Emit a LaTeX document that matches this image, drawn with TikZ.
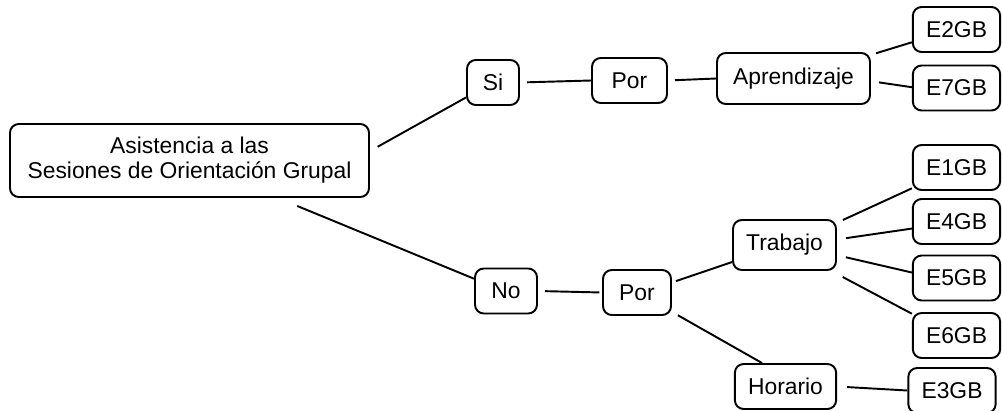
\documentclass[tikz,border=0pt]{standalone}
\usepackage{fontspec}
\setmainfont{Liberation Sans}

\begin{document}
\begin{tikzpicture}[
    box/.style={draw, rounded corners=5pt, line width=1.1pt, inner xsep=7.5pt, minimum height=0.9cm, font=\fontsize{13}{14.2}\selectfont},
    link/.style={line width=1.1pt}
  ]
            \useasboundingbox (0,0) rectangle (20.04,-8.2);

            %Nodes
            \node[box, align=center, minimum width=7.18cm, minimum height=1.46cm] at (3.79,-3.21) (root) {Asistencia a las\\Sesiones de Orientación Grupal};
            \node[box, minimum width=1.04cm] at (9.86,-1.65) (si) {Si};
            \node[box, minimum width=1.5cm] at (12.59,-1.61) (porsi) {Por};
            \node[box, minimum width=3.06cm, minimum height=1.02cm] at (15.87,-1.57) (aprendizaje) {Aprendizaje};
            \node[box] at (19.13,-0.59) (e2) {E2GB};
            \node[box] at (19.13,-1.76) (e7) {E7GB};
            \node[box, minimum width=1.24cm] at (10.12,-5.82) (no) {No};
            \node[box, minimum width=1.36cm] at (12.74,-5.85) (porno) {Por};
            \node[box, minimum height=1cm] at (15.69,-4.9) (trabajo) {Trabajo};
            \node[box] at (15.71,-7.73) (horario) {Horario};
            \node[box] at (19.13,-3.35) (e1) {E1GB};
            \node[box] at (19.13,-4.43) (e4) {E4GB};
            \node[box] at (19.13,-5.56) (e5) {E5GB};
            \node[box] at (19.13,-6.71) (e6) {E6GB};
            \node[box] at (19.04,-7.81) (e3) {E3GB};

            %Lines
            \draw[link, shorten <=5pt] (root.3.6) -- (si.209);
            \draw[link, shorten <=4pt] (si.east) -- (porsi.west);
            \draw[link, shorten <=4pt] (porsi.east) -- (aprendizaje.west);
            \draw[link, shorten <=3pt] (aprendizaje.17.5) -- (e2.196);
            \draw[link, shorten <=4.6pt] (aprendizaje.-2.7) -- (e7.179);
            \draw[link, shorten <=12pt] (root.-23.5) -- (no.159);
            \draw[link, shorten <=4pt, shorten >=1.5pt] (no.east) -- (porno.west);
            \draw[link, shorten <=2.4pt] (porno.16.7) -- (trabajo.198.6);
            \draw[link, shorten <=3.9pt] (porno.-29.3) -- (horario.135);
            \draw[link, shorten <=3.7pt] (trabajo.23.6) -- (e1.205.7);
            \draw[link, shorten <=5.2pt] (trabajo.6.2) -- (e4.189.6);
            \draw[link, shorten <=5.2pt] (trabajo.-11.7) -- (e5.173.1);
            \draw[link, shorten <=7.3pt] (trabajo.-29.5) -- (e6.154.3);
            \draw[link, shorten <=5.7pt] (horario.east) -- (e3.west);
        \end{tikzpicture}
\end{document}
